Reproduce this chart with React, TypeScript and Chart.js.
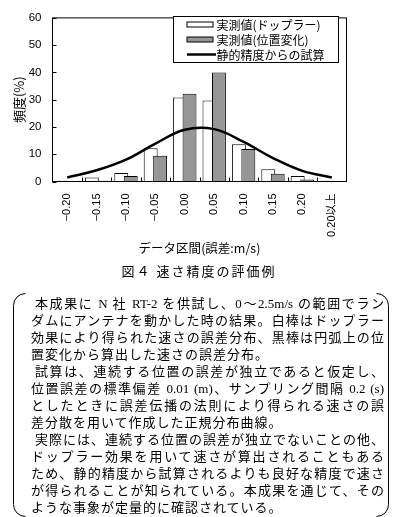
import React, { useEffect, useRef } from "react";
import { Chart, registerables } from "chart.js";

Chart.register(...registerables);

// ---- data ----
const categories = ["−0.20", "−0.15", "−0.10", "−0.05", "0.00", "0.05", "0.10", "0.15", "0.20", "0.20以上"];
const dopplerValues = [0.3, 1.5, 3.1, 12.2, 30.8, 29.7, 13.7, 4.5, 2.0, 0.3];
const positionValues = [0, 0.3, 2.0, 9.4, 32.2, 40.0, 11.9, 2.8, 0.7, 0];
const estimateValues = [1.5, 4.1, 8.0, 13.9, 19.0, 19.2, 14.5, 8.6, 3.9, 1.5];
const yTicks = [0, 10, 20, 30, 40, 50, 60];
const seriesLabels = ["実測値(ドップラー)", "実測値(位置変化)", "静的精度からの試算"];
const xTitle = "データ区間(誤差:m/s)";
const yTitle = "頻度(%)";
const caption = "図４ 速さ精度の評価例";
const noteLines = [
  "本成果に N 社 RT-2 を供試し、0～2.5m/s の範囲でラン",
  "ダムにアンテナを動かした時の結果。白棒はドップラー",
  "効果により得られた速さの誤差分布、黒棒は円弧上の位",
  "置変化から算出した速さの誤差分布。",
  "試算は、連続する位置の誤差が独立であると仮定し、",
  "位置誤差の標準偏差 0.01 (m)、サンプリング間隔 0.2 (s)",
  "としたときに誤差伝播の法則により得られる速さの誤",
  "差分散を用いて作成した正規分布曲線。",
  "実際には、連続する位置の誤差が独立でないことの他、",
  "ドップラー効果を用いて速さが算出されることもある",
  "ため、静的精度から試算されるよりも良好な精度で速さ",
  "が得られることが知られている。本成果を通じて、その",
  "ような事象が定量的に確認されている。",
];
const indentLines = [0, 4, 8];
const lastLines = [3, 7, 12];

const CJK = '"Noto Sans CJK JP"';
const SANS = '"Liberation Sans", "Noto Sans CJK JP", sans-serif';

// draw gray bars above white ones (overlapping like the original)
const overlapPlugin = {
  id: "overlap",
  beforeDatasetDraw(chart: any, args: any) {
    if (args.index === 1) return false;
  },
  afterDatasetDraw(chart: any, args: any) {
    if (args.index === 0) chart.getDatasetMeta(1).controller.draw();
  },
};

const framePlugin = {
  id: "frame",
  beforeDatasetsDraw(chart: any) {
    const { ctx, chartArea: a, scales } = chart;
    ctx.save();
    ctx.strokeStyle = "#000";
    ctx.lineWidth = 1;
    ctx.beginPath();
    const y = scales.y;
    y.ticks.forEach((t: any) => {
      const py = Math.round(y.getPixelForValue(t.value)) + 0.5;
      ctx.moveTo(a.left, py);
      ctx.lineTo(a.left + 4, py);
    });
    const x = scales.x;
    for (let i = 1; i < categories.length; i++) {
      const px = Math.round((x.getPixelForValue(i - 1) + x.getPixelForValue(i)) / 2) + 0.5;
      ctx.moveTo(px, a.bottom);
      ctx.lineTo(px, a.bottom - 4);
    }
    ctx.stroke();
    ctx.restore();
  },
  afterDatasetsDraw(chart: any) {
    const { ctx, chartArea: a } = chart;
    ctx.save();
    ctx.strokeStyle = "#000";
    ctx.lineWidth = 1;
    ctx.strokeRect(a.left, a.top, a.right - a.left, a.bottom - a.top);
    ctx.restore();
  },
};

const boxLegendPlugin = {
  id: "boxLegend",
  afterDraw(chart: any) {
    const { ctx } = chart;
    const bx = 173.5, by = 16.5, bw = 165, bh = 46;
    ctx.save();
    ctx.fillStyle = "#fff";
    ctx.fillRect(bx, by, bw, bh);
    ctx.strokeStyle = "#000";
    ctx.lineWidth = 1;
    ctx.strokeRect(bx, by, bw, bh);
    ctx.font = `12px ${CJK}`;
    ctx.textBaseline = "middle";
    chart.data.datasets.forEach((ds: any, i: number) => {
      const cy = by + 8 + i * 15;
      const ix = bx + 13.5;
      if (ds.type === "line") {
        ctx.strokeStyle = ds.borderColor;
        ctx.lineWidth = ds.borderWidth;
        ctx.beginPath();
        ctx.moveTo(ix, cy);
        ctx.lineTo(ix + 29, cy);
        ctx.stroke();
      } else {
        ctx.fillStyle = ds.backgroundColor;
        ctx.fillRect(ix, cy - 2.5, 26, 5);
        ctx.strokeStyle = ds.borderColor;
        ctx.lineWidth = 1;
        ctx.strokeRect(ix, cy - 2.5, 26, 5);
      }
      ctx.fillStyle = "#000";
      ctx.fillText(ds.label, bx + 43, cy + 0.5);
    });
    ctx.restore();
  },
};

function ChartCanvas() {
  const ref = useRef<HTMLCanvasElement | null>(null);
  useEffect(() => {
    if (!ref.current) return;
    const chart = new Chart(ref.current, {
      type: "bar",
      data: {
        labels: categories,
        datasets: [
          {
            type: "bar",
            label: seriesLabels[0],
            data: dopplerValues,
            backgroundColor: "#ffffff",
            borderColor: "#000000",
            borderWidth: 1,
            categoryPercentage: 0.644,
            barPercentage: 1.47,
            order: 1,
          },
          {
            type: "bar",
            label: seriesLabels[1],
            data: positionValues,
            backgroundColor: "#969696",
            borderColor: "#000000",
            borderWidth: 1,
            categoryPercentage: 0.644,
            barPercentage: 1.47,
            order: 1,
          },
          {
            type: "line",
            label: seriesLabels[2],
            data: estimateValues,
            borderColor: "#000000",
            borderWidth: 2.5,
            pointRadius: 0,
            tension: 0.4,
            fill: false,
            order: 0,
          },
        ],
      } as any,
      options: {
        animation: false,
        responsive: false,
        layout: { padding: { left: 0.5, right: 51.5, top: 11.5, bottom: 0 } },
        plugins: { legend: { display: false }, tooltip: { enabled: false } },
        scales: {
          x: {
            type: "category",
            grid: { display: false, drawTicks: false },
            border: { display: false },
            ticks: {
              autoSkip: false,
              minRotation: 90,
              maxRotation: 90,
              padding: 12,
              color: "#000",
              font: { family: SANS, size: 11 },
            },
            title: {
              display: true,
              text: xTitle,
              color: "#000",
              font: { family: CJK, size: 12.5 },
              padding: { top: 0, bottom: 6 },
            },
            afterFit: (s: any) => {
              s.height = 80.5;
            },
          },
          y: {
            min: 0,
            max: 60,
            afterBuildTicks: (s: any) => {
              s.ticks = yTicks.map((v) => ({ value: v }));
            },
            grid: { display: false, drawTicks: false },
            border: { display: false },
            ticks: {
              padding: 11,
              color: "#000",
              font: { family: SANS, size: 11.5 },
            },
            title: {
              display: true,
              text: yTitle,
              color: "#000",
              font: { family: CJK, size: 13 },
              padding: { top: 11, bottom: 0 },
            },
            afterFit: (s: any) => {
              s.width = 52;
            },
          },
        },
      } as any,
      plugins: [overlapPlugin, framePlugin, boxLegendPlugin],
    });
    return () => chart.destroy();
  }, []);
  return <canvas ref={ref} width={398} height={262} style={{ position: "absolute", left: 0, top: 0 }} />;
}

export default function App() {
  return (
    <div
      style={{
        position: "absolute",
        left: 0,
        top: 0,
        width: 398,
        height: 517,
        background: "#fff",
        overflow: "hidden",
        color: "#000",
      }}
    >
      <ChartCanvas />
      <div
        style={{
          position: "absolute",
          left: 0,
          top: 262,
          width: 398,
          textAlign: "center",
          fontFamily: CJK,
          fontSize: 13,
          lineHeight: "18px",
          letterSpacing: 2,
        }}
      >
        {caption}
      </div>
      <svg width={398} height={517} style={{ position: "absolute", left: 0, top: 0 }}>
        <path d="M 25.5 293.5 A 12 12 0 0 0 13.5 305.5 L 13.5 504.5 A 12 12 0 0 0 25.5 516.5" fill="none" stroke="#000" strokeWidth={1} />
        <path d="M 376.5 293.5 A 12 12 0 0 1 388.5 305.5 L 388.5 504.5 A 12 12 0 0 1 376.5 516.5" fill="none" stroke="#000" strokeWidth={1} />
      </svg>
      {noteLines.map((t, i) => {
        const indent = indentLines.includes(i) ? 4 : 0;
        const last = lastLines.includes(i);
        return (
          <div
            key={i}
            style={{
              position: "absolute",
              left: 31 + indent,
              top: 295 + i * 17,
              width: 353 - indent,
              height: 17,
              lineHeight: "17px",
              fontSize: 13,
              fontFamily: '"Liberation Serif", "Noto Sans CJK JP", serif',
              textAlign: "justify",
              textAlignLast: last ? "left" : "justify",
              letterSpacing: last ? 1 : 0,
            } as any}
          >
            {t}
          </div>
        );
      })}
    </div>
  );
}
